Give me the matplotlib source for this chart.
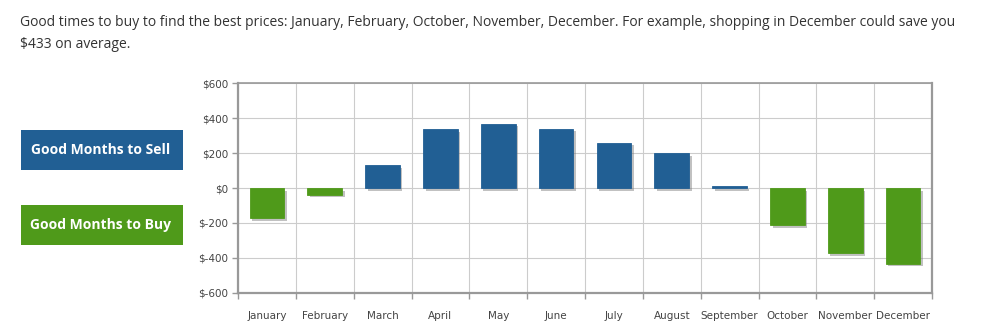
import matplotlib.pyplot as plt
import matplotlib.patheffects as pe
import numpy as np
from matplotlib.patches import Rectangle

months = ["January", "February", "March", "April", "May", "June",
          "July", "August", "September", "October", "November", "December"]
savings = [-172, -38, 130, 336, 369, 340, 258, 198, 10, -213, -373, -433]
y_ticks = [-600, -400, -200, 0, 200, 400, 600]

blue = "#215f94"
green = "#4f9a1a"

fig = plt.figure(figsize=(9.86, 3.36), dpi=100)
fig.patch.set_facecolor("white")

fig.text(20 / 986, 1 - 22 / 336,
         "Good times to buy to find the best prices: January, February, October, November, December. "
         "For example, shopping in December could save you",
         fontsize=10.0, color="#333333", family="Open Sans", va="center")
fig.text(20 / 986, 1 - 44 / 336, "$433 on average.",
         fontsize=10.0, color="#333333", family="Open Sans", va="center")

# legend buttons
for (y0, y1), color, label in [((130, 170), blue, "Good Months to Sell"),
                               ((205, 245), green, "Good Months to Buy")]:
    fig.patches.append(Rectangle((21 / 986, 1 - y1 / 336), 162 / 986, (y1 - y0) / 336,
                                 transform=fig.transFigure, facecolor=color, edgecolor="none"))
    fig.text(101 / 986, 1 - (y0 + y1) / 2 / 336, label, color="white", fontsize=10.0,
             fontweight="bold", family="Open Sans", ha="center", va="center")

ax = fig.add_axes([238 / 986, 1 - 292.7 / 336, (932 - 238) / 986, (292.7 - 83.3) / 336])
x = np.arange(len(months))
colors = [blue if v > 0 else green for v in savings]
bars = ax.bar(x, savings, width=0.6, color=colors, edgecolor=colors, linewidth=0.6, zorder=3)
for b in bars:
    b.set_path_effects([pe.SimplePatchShadow(offset=(1.8, -1.8), shadow_rgbFace="#777777", alpha=0.45),
                        pe.Normal()])

ax.set_xlim(-0.5, len(months) - 0.5)
ax.set_ylim(-600, 600)
ax.set_yticks(y_ticks)
ax.set_yticklabels(["$" + str(v) for v in y_ticks])
ax.set_xticks(np.arange(len(months) + 1) - 0.5)
ax.set_xticklabels([])
ax.set_xticks(x, minor=True)
ax.set_xticklabels(months, minor=True)
ax.tick_params(axis="x", which="minor", length=0, pad=13, labelsize=7.5, labelcolor="#444444")
ax.tick_params(axis="x", which="major", length=4, color="#999999", width=1)
ax.tick_params(axis="y", length=4, color="#999999", width=1, labelsize=7.5, labelcolor="#444444", pad=3)
ax.grid(True, which="major", color="#cccccc", linewidth=0.8, zorder=0)
for s in ax.spines.values():
    s.set_color("#999999")
    s.set_linewidth(1.6)
ax.spines["top"].set_linewidth(1.2)

fig.savefig("out.png", dpi=100)
